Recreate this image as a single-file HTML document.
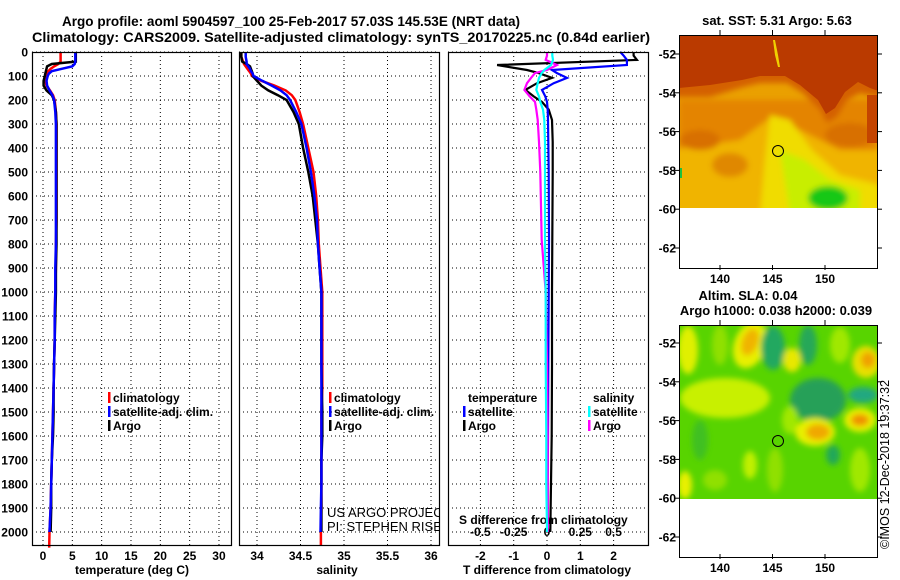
<!DOCTYPE html>
<html><head><meta charset="utf-8">
<style>
html,body{margin:0;padding:0;background:#fff;}
svg{display:block;font-family:"Liberation Sans",sans-serif;}
.b{font-weight:bold;font-size:12px;}
</style></head>
<body>
<svg id="fig" width="900" height="580" viewBox="0 0 900 580" xmlns="http://www.w3.org/2000/svg">
<defs>
<filter id="blur3" x="-20%" y="-20%" width="140%" height="140%"><feGaussianBlur stdDeviation="3"/></filter>
<clipPath id="clipTop"><rect x="679" y="35" width="198" height="173"/></clipPath>
<clipPath id="clipBot"><rect x="679" y="325" width="198" height="174"/></clipPath>
<clipPath id="clipP2"><rect x="239" y="52" width="200" height="493"/></clipPath>
</defs>
<text x="291" y="26" text-anchor="middle" style="font-weight:bold;font-size:14px" textLength="458" lengthAdjust="spacingAndGlyphs">Argo profile: aoml 5904597_100 25-Feb-2017 57.03S 145.53E (NRT data)</text>
<text x="341" y="42" text-anchor="middle" style="font-weight:bold;font-size:14px" textLength="618" lengthAdjust="spacingAndGlyphs">Climatology: CARS2009. Satellite-adjusted climatology: synTS_20170225.nc (0.84d earlier)</text>

<!-- Top map -->
<g>
<text x="777" y="25" text-anchor="middle" class="b" style="font-size:13px">sat. SST: 5.31 Argo: 5.63</text>
<g clip-path="url(#clipTop)">
<rect x="679" y="35" width="198" height="173" fill="#eaa000"/>
<g filter="url(#blur3)">
<rect x="679" y="100" width="198" height="50" fill="#e48400"/>
<path d="M670,150 L740,140 L770,118 L800,130 L840,150 L890,150 L890,215 L670,215 Z" fill="#f0b400"/>
<path d="M770,115 L790,120 L812,150 L840,175 L880,185 L880,215 L760,215 L765,160 Z" fill="#f0dc00"/>
<path d="M780,150 L805,160 L830,180 L860,190 L860,215 L790,215 Z" fill="#c8ee00"/>
<ellipse cx="828" cy="198" rx="20" ry="12" fill="#18c818"/>
<ellipse cx="700" cy="140" rx="20" ry="10" fill="#d87000"/>
<ellipse cx="730" cy="165" rx="18" ry="12" fill="#e08800"/>
<ellipse cx="850" cy="135" rx="25" ry="12" fill="#d87000"/>
<path d="M670,30 L890,30 L890,100 L877,97 L860,93 L847,100 L837,117 L827,123 L820,110 L803,93 L787,83 L760,83 L743,87 L710,97 L670,97 Z" fill="#d46000"/>
</g>
<path d="M670,30 L890,30 L890,95 L870,88 L858,82 L845,92 L835,108 L826,114 L818,100 L800,85 L785,76 L760,76 L742,80 L710,85 L679,88 L670,88 Z" fill="#ba3a00"/>
<rect x="867" y="95" width="12" height="48" fill="#c44400"/>
<path d="M773,40 L775,40 L778,55 L780,67 L778,67 L775,55 Z" fill="#f0d000"/>
<rect x="679" y="168" width="3" height="10" fill="#20c040"/>
</g>
<rect x="679" y="208" width="198" height="60" fill="#fff"/>
<rect x="679.5" y="35.5" width="198" height="233" fill="none" stroke="#000" stroke-width="1"/>
<circle cx="778" cy="151" r="5.5" fill="none" stroke="#000" stroke-width="1"/>
<g id="topMapAxes"></g>
</g>

<!-- Bottom map -->
<g>
<text x="748" y="300" text-anchor="middle" class="b" style="font-size:13px">Altim. SLA: 0.04</text>
<text x="776" y="315" text-anchor="middle" class="b" style="font-size:13px">Argo h1000: 0.038 h2000: 0.039</text>
<g clip-path="url(#clipBot)">
<rect x="679" y="325" width="198" height="174" fill="#58d400"/>
<g filter="url(#blur3)">
<ellipse cx="725" cy="398" rx="45" ry="20" fill="#c8f000"/>
<ellipse cx="688" cy="350" rx="10" ry="24" fill="#e0f000"/>
<ellipse cx="720" cy="345" rx="8" ry="20" fill="#90e000"/>
<ellipse cx="750" cy="345" rx="16" ry="24" fill="#e8f000" transform="rotate(20 750 345)"/>
<ellipse cx="750" cy="342" rx="8" ry="14" fill="#f0b400" transform="rotate(20 750 342)"/>
<ellipse cx="773" cy="348" rx="12" ry="22" fill="#20a860"/>
<ellipse cx="808" cy="345" rx="9" ry="20" fill="#28a858"/>
<ellipse cx="792" cy="360" rx="9" ry="12" fill="#e8e800"/>
<ellipse cx="840" cy="345" rx="10" ry="18" fill="#a0e800"/>
<ellipse cx="818" cy="400" rx="28" ry="22" fill="#28a058"/>
<ellipse cx="863" cy="395" rx="15" ry="8" fill="#20a880"/>
<ellipse cx="866" cy="362" rx="14" ry="16" fill="#e8e000"/>
<ellipse cx="868" cy="360" rx="7" ry="8" fill="#f0a000"/>
<ellipse cx="860" cy="420" rx="16" ry="12" fill="#e8f000"/>
<ellipse cx="860" cy="420" rx="9" ry="6" fill="#f09000"/>
<ellipse cx="815" cy="432" rx="20" ry="14" fill="#e8f000"/>
<ellipse cx="818" cy="432" rx="12" ry="8" fill="#f0a800"/>
<ellipse cx="833" cy="455" rx="7" ry="10" fill="#20a858"/>
<ellipse cx="685" cy="485" rx="7" ry="14" fill="#e8f000"/>
<ellipse cx="750" cy="465" rx="7" ry="14" fill="#c0f000"/>
<ellipse cx="700" cy="440" rx="8" ry="20" fill="#40c020"/>
<ellipse cx="775" cy="470" rx="8" ry="22" fill="#90e000"/>
<ellipse cx="860" cy="470" rx="10" ry="22" fill="#a0e800"/>
<ellipse cx="715" cy="480" rx="12" ry="10" fill="#90e000"/>
<ellipse cx="790" cy="420" rx="8" ry="14" fill="#a0e800"/>
</g>
</g>
<rect x="679" y="499" width="198" height="58" fill="#fff"/>
<rect x="679.5" y="325.5" width="198" height="232" fill="none" stroke="#000" stroke-width="1"/>
<circle cx="778" cy="441" r="5.5" fill="none" stroke="#000" stroke-width="1"/>
<g id="botMapAxes"></g>
</g>
<text transform="translate(889,549) rotate(-90)" style="font-size:12.5px">©IMOS 12-Dec-2018 19:37:32</text>

<g id="panels"></g>
</svg>
<script>
// ---------- data ----------
const depthTicks = [0,100,200,300,400,500,600,700,800,900,1000,1100,1200,1300,1400,1500,1600,1700,1800,1900,2000];
const tempTicks = [0,5,10,15,20,25,30];
const salTicks = [34,34.5,35,35.5,36];
const salTickLabels = ["34","34.5","35","35.5","36"];
const tdiffTicks = [-2,-1,0,1,2];
const sdiffTicks = [-0.5,-0.25,0,0.25,0.5];
const sdiffTickLabels = ["-0.5","-0.25","0","0.25","0.5"];

const profDepth = [0,20,40,50,60,70,80,90,100,120,140,160,180,200,250,300,400,500,600,700,800,900,1000,1100,1200,1300,1400,1500,1600,1700,1800,1900,2000];
const tempClim  = [3.0,3.0,3.0,2.6,1.9,1.3,0.9,0.6,0.5,0.4,0.6,1.2,1.7,2.0,2.2,2.3,2.3,2.3,2.3,2.3,2.2,2.2,2.1,2.0,2.0,1.9,1.8,1.7,1.6,1.5,1.4,1.3,1.1];
const tempSat   = [5.5,5.5,5.5,5.4,5.0,3.2,1.5,1.0,0.8,0.6,0.7,1.1,1.6,1.9,2.1,2.2,2.2,2.2,2.2,2.2,2.2,2.1,2.1,2.0,2.0,1.9,1.8,1.7,1.6,1.5,1.4,1.3,1.1];
const tempArgo  = [5.6,5.6,5.6,1.5,0.7,0.6,0.5,0.4,0.3,0.1,0.1,0.6,1.5,1.9,2.2,2.3,2.3,2.3,2.3,2.3,2.3,2.2,2.2,2.1,2.0,1.9,1.8,1.8,1.7,1.5,1.4,1.4,1.3];
const salClim   = [33.82,33.82,33.84,33.85,33.87,33.89,33.91,33.93,33.94,34.05,34.2,34.33,34.4,34.44,34.49,34.53,34.59,34.65,34.68,34.70,34.71,34.73,34.75,34.75,34.75,34.75,34.75,34.74,34.74,34.74,34.74,34.74,34.735];
const salSat    = [33.87,33.87,33.88,33.88,33.9,33.92,33.93,33.95,33.96,34.06,34.17,34.27,34.34,34.38,34.45,34.51,34.57,34.62,34.66,34.69,34.70,34.72,34.74,34.74,34.74,34.74,34.74,34.74,34.74,34.74,34.74,34.735,34.73];
const salArgo   = [33.82,33.82,33.83,33.88,33.92,33.93,33.94,33.95,33.95,34.0,34.05,34.13,34.24,34.34,34.42,34.48,34.53,34.59,34.64,34.67,34.70,34.72,34.74,34.74,34.74,34.74,34.745,34.75,34.75,34.74,34.74,34.74,34.74];
const climDeepDepth = [2000,2065];
const climDeepT = [1.1,1.05];
const climDeepS = [34.735,34.735];

const diffDepth = [0,15,33,54,75,88,108,130,158,185,208,240,283,375,500,783,1000,1300,1600,1800,2000];
const tdiffArgo = [2.6,2.6,2.7,-1.5,-0.6,-0.25,0.15,-0.3,-0.65,-0.4,-0.15,0.05,0.15,0.17,0.17,0.16,0.15,0.15,0.14,0.12,0.1];
const tdiffSat  = [2.2,2.3,2.4,2.4,0.15,0.3,0.6,0.2,-0.15,-0.05,0.0,0.02,0.03,0.04,0.05,0.06,0.05,0.04,0.03,0.02,0.02];
const sdiffArgo = [0.0,0.0,-0.01,0.075,0.0,-0.09,-0.12,-0.15,-0.17,-0.13,-0.09,-0.08,-0.07,-0.06,-0.05,-0.04,-0.01,0.0,0.005,0.005,0.005];
const sdiffSat  = [0.04,0.04,0.045,0.03,-0.02,-0.04,-0.06,-0.07,-0.08,-0.06,-0.05,-0.03,-0.02,-0.015,-0.015,-0.015,-0.01,-0.01,-0.005,-0.005,0.0];

const latTicks = [-52,-54,-56,-58,-60,-62];
const lonTicks = [140,145,150];

// ---------- helpers ----------
const NS = "http://www.w3.org/2000/svg";
const root = document.getElementById('panels');
function mk(tag, attrs, parent){ const e=document.createElementNS(NS,tag); for(const k in attrs) e.setAttribute(k,attrs[k]); (parent||root).appendChild(e); return e; }
const Y0 = 52, PY = 0.24, YB = 545;
const yD = d => Y0 + d*PY;
const panels = [
  {x0:32, x1:231, name:'temperature-panel'},
  {x0:239, x1:439, name:'salinity-panel'},
  {x0:448, x1:648, name:'difference-panel'}
];
const xT = t => 43 + t*5.866;
const xS = s => 257 + (s-34)*87.0;
const xTd = t => 547 + t*33.3;
const xSd = s => 547 + s*133.2;

function line(depths, vals, xf, color, parent, name, w){
  let d='';
  for(let i=0;i<depths.length;i++){ d += (i?'L':'M') + xf(vals[i]).toFixed(1) + ',' + yD(depths[i]).toFixed(1); }
  const p = mk('path',{d:d,fill:'none',stroke:color,'stroke-width':w||2.5,'stroke-linejoin':'miter'},parent);
  
  
  return p;
}
function txt(x,y,s,opts,parent,name){
  const t = mk('text',Object.assign({x:x,y:y},opts||{}),parent);
  t.textContent = s;
  
  
  return t;
}

// ---------- panels frame/grid ----------
panels.forEach((P,pi)=>{
  const g = mk('g',{});
  
  
  P.g = g;
  depthTicks.forEach(d=>{
    const gl = mk('line',{x1:P.x0,x2:P.x1,y1:yD(d),y2:yD(d),stroke:'#000','stroke-width':1,'stroke-dasharray':'1 3'},g);
    
    
  });
  let xt = pi===0 ? tempTicks.map(xT) : pi===1 ? salTicks.map(xS) : tdiffTicks.map(xTd);
  xt.forEach(x=>{
    const gl = mk('line',{x1:x,x2:x,y1:Y0,y2:YB,stroke:'#000','stroke-width':1,'stroke-dasharray':'1 3'},g);
    
    
  });
});
depthTicks.forEach(d=>{ txt(28, yD(d)+4.5, String(d), {'text-anchor':'end','class':'b'}, root, 'depth-tick-label'); });
tempTicks.forEach(t=>txt(xT(t), 560, String(t), {'text-anchor':'middle','class':'b'}, panels[0].g, 'temp-tick-label'));
salTicks.forEach((s,i)=>txt(xS(s), 560, salTickLabels[i], {'text-anchor':'middle','class':'b'}, panels[1].g, 'salinity-tick-label'));
tdiffTicks.forEach(t=>txt(xTd(t), 560, String(t), {'text-anchor':'middle','class':'b'}, panels[2].g, 'tdiff-tick-label'));
sdiffTicks.forEach((s,i)=>txt(xSd(s), 536, sdiffTickLabels[i], {'text-anchor':'middle','class':'b'}, panels[2].g, 'sdiff-tick-label'));
txt(132, 574, 'temperature (deg C)', {'text-anchor':'middle','class':'b'}, panels[0].g, 'temperature-axis-title');
txt(337, 574, 'salinity', {'text-anchor':'middle','class':'b'}, panels[1].g, 'salinity-axis-title');
txt(547, 574, 'T difference from climatology', {'text-anchor':'middle','class':'b'}, panels[2].g, 'tdiff-axis-title');
txt(459, 524, 'S difference from climatology', {'class':'b'}, panels[2].g, 'sdiff-axis-title');

// ---------- series ----------
line(profDepth, tempClim, xT, '#f00', panels[0].g, 'temp-climatology-line');
line(climDeepDepth, climDeepT, xT, '#f00', panels[0].g, 'temp-climatology-deep');
line(profDepth, tempArgo, xT, '#000', panels[0].g, 'temp-argo-line');
line(profDepth, tempSat, xT, '#00f', panels[0].g, 'temp-satellite-line');

const g2 = mk('g',{'clip-path':'url(#clipP2)'}, panels[1].g);


line(profDepth, salClim, xS, '#f00', g2, 'sal-climatology-line');
line(climDeepDepth, climDeepS, xS, '#f00', g2, 'sal-climatology-deep');
line(profDepth, salArgo, xS, '#000', g2, 'sal-argo-line');
line(profDepth, salSat, xS, '#00f', g2, 'sal-satellite-line');

line(diffDepth, tdiffArgo, xTd, '#000', panels[2].g, 'tdiff-argo-line', 2.2);
line(diffDepth, tdiffSat, xTd, '#00f', panels[2].g, 'tdiff-satellite-line', 2.2);
line(diffDepth, sdiffArgo, xSd, '#f0f', panels[2].g, 'sdiff-argo-line', 2.2);
line(diffDepth, sdiffSat, xSd, '#0ff', panels[2].g, 'sdiff-satellite-line', 2.2);

const ct = mk('g',{'clip-path':'url(#clipP2)'}, panels[1].g);
txt(327, 517, 'US ARGO PROJECT', {style:'font-size:13px'}, ct, 'project-credit');
txt(327, 531, 'PI: STEPHEN RISER', {style:'font-size:13px'}, ct, 'pi-credit');

// ---------- legends ----------
function legend(parent, x, y, color, label, name){
  const m = mk('rect',{x:x-5,y:y-10,width:2.5,height:11,fill:color},parent);
  
  
  txt(x, y, label, {'class':'b'}, parent, name);
}
legend(panels[0].g, 113, 402, '#f00', 'climatology', 'legend-climatology');
legend(panels[0].g, 113, 416, '#00f', 'satellite-adj. clim.', 'legend-satellite-adj');
legend(panels[0].g, 113, 430, '#000', 'Argo', 'legend-argo');
legend(panels[1].g, 334, 402, '#f00', 'climatology', 'legend-climatology');
legend(panels[1].g, 334, 416, '#00f', 'satellite-adj. clim.', 'legend-satellite-adj');
legend(panels[1].g, 334, 430, '#000', 'Argo', 'legend-argo');
txt(468, 402, 'temperature', {'class':'b'}, panels[2].g, 'legend-temperature-heading');
legend(panels[2].g, 468, 416, '#00f', 'satellite', 'legend-tdiff-satellite');
legend(panels[2].g, 468, 430, '#000', 'Argo', 'legend-tdiff-argo');
txt(593, 402, 'salinity', {'class':'b'}, panels[2].g, 'legend-salinity-heading');
legend(panels[2].g, 593, 416, '#0ff', 'satellite', 'legend-sdiff-satellite');
legend(panels[2].g, 593, 430, '#f0f', 'Argo', 'legend-sdiff-argo');

panels.forEach(P=>{
  const r = mk('rect',{x:P.x0+0.5,y:Y0+0.5,width:P.x1-P.x0,height:YB-Y0,fill:'none',stroke:'#000','stroke-width':1.2},P.g);
  
  
});

// ---------- map axes ----------
function mapAxes(gid, top, bottom, latTop){
  const g = document.getElementById(gid);
  const yl = lat => latTop + (-52 - lat)*19.4;
  latTicks.forEach(l=>{
    const y = yl(l);
    mk('line',{x1:674,x2:679,y1:y,y2:y,stroke:'#000'},g);
    mk('line',{x1:877,x2:882,y1:y,y2:y,stroke:'#000'},g);
    txt(676, y+4.5, String(l), {'text-anchor':'end','class':'b'}, g, 'latitude-tick-label');
  });
  const xl = lon => 720 + (lon-140)*10.5;
  lonTicks.forEach(l=>{
    const x = xl(l);
    mk('line',{x1:x,x2:x,y1:top-5,y2:top,stroke:'#000'},g);
    mk('line',{x1:x,x2:x,y1:bottom-3,y2:bottom+2,stroke:'#000'},g);
    txt(x, bottom+15, String(l), {'text-anchor':'middle','class':'b'}, g, 'longitude-tick-label');
  });
}
mapAxes('topMapAxes', 35, 268, 54);
mapAxes('botMapAxes', 325, 557, 343);
</script>
</body></html>
